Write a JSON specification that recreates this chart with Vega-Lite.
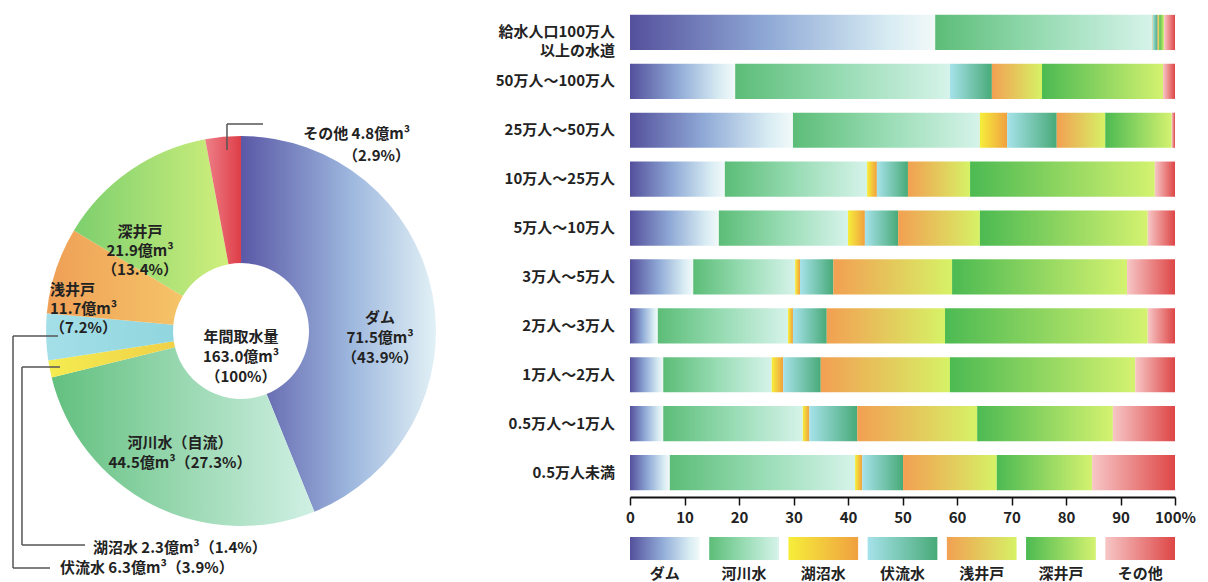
{
  "$schema": "https://vega.github.io/schema/vega-lite/v6.json",
  "padding": {"left": 5, "top": 8, "right": 5, "bottom": 0},
  "background": "white",
  "config": {"font": "Noto Sans CJK JP", "view": {"stroke": null}},
  "datasets": {
    "donut": [
      {"source": "ダム", "order": 1, "value": 71.5, "label": "ダム\n71.5億m³\n（43.9%）"},
      {"source": "河川水", "order": 2, "value": 44.5, "label": "河川水（自流）\n44.5億m³（27.3%）"},
      {"source": "湖沼水", "order": 3, "value": 2.3, "label": "湖沼水  2.3億m³（1.4%）"},
      {"source": "伏流水", "order": 4, "value": 6.3, "label": "伏流水  6.3億m³（3.9%）"},
      {"source": "浅井戸", "order": 5, "value": 11.7, "label": "浅井戸\n11.7億m³\n（7.2%）"},
      {"source": "深井戸", "order": 6, "value": 21.9, "label": "深井戸\n21.9億m³\n（13.4%）"},
      {"source": "その他", "order": 7, "value": 4.8, "label": "その他 4.8億m³\n（2.9%）"}
    ],
    "legend": [
      {"source": "ダム"}, {"source": "河川水"}, {"source": "湖沼水"}, {"source": "伏流水"},
      {"source": "浅井戸"}, {"source": "深井戸"}, {"source": "その他"}
    ],
    "bars": [
      {"size": "給水人口100万人|以上の水道", "source": "ダム", "order": 1, "pct": 56.0},
      {"size": "給水人口100万人|以上の水道", "source": "河川水", "order": 2, "pct": 39.8},
      {"size": "給水人口100万人|以上の水道", "source": "湖沼水", "order": 3, "pct": 0.1},
      {"size": "給水人口100万人|以上の水道", "source": "伏流水", "order": 4, "pct": 0.9},
      {"size": "給水人口100万人|以上の水道", "source": "浅井戸", "order": 5, "pct": 0.3},
      {"size": "給水人口100万人|以上の水道", "source": "深井戸", "order": 6, "pct": 0.9},
      {"size": "給水人口100万人|以上の水道", "source": "その他", "order": 7, "pct": 2.0},
      {"size": "50万人～100万人", "source": "ダム", "order": 1, "pct": 19.3},
      {"size": "50万人～100万人", "source": "河川水", "order": 2, "pct": 39.4},
      {"size": "50万人～100万人", "source": "湖沼水", "order": 3, "pct": 0.0},
      {"size": "50万人～100万人", "source": "伏流水", "order": 4, "pct": 7.7},
      {"size": "50万人～100万人", "source": "浅井戸", "order": 5, "pct": 9.2},
      {"size": "50万人～100万人", "source": "深井戸", "order": 6, "pct": 22.2},
      {"size": "50万人～100万人", "source": "その他", "order": 7, "pct": 2.2},
      {"size": "25万人～50万人", "source": "ダム", "order": 1, "pct": 29.9},
      {"size": "25万人～50万人", "source": "河川水", "order": 2, "pct": 34.3},
      {"size": "25万人～50万人", "source": "湖沼水", "order": 3, "pct": 5.0},
      {"size": "25万人～50万人", "source": "伏流水", "order": 4, "pct": 9.1},
      {"size": "25万人～50万人", "source": "浅井戸", "order": 5, "pct": 8.9},
      {"size": "25万人～50万人", "source": "深井戸", "order": 6, "pct": 12.2},
      {"size": "25万人～50万人", "source": "その他", "order": 7, "pct": 0.6},
      {"size": "10万人～25万人", "source": "ダム", "order": 1, "pct": 17.4},
      {"size": "10万人～25万人", "source": "河川水", "order": 2, "pct": 26.1},
      {"size": "10万人～25万人", "source": "湖沼水", "order": 3, "pct": 1.8},
      {"size": "10万人～25万人", "source": "伏流水", "order": 4, "pct": 5.7},
      {"size": "10万人～25万人", "source": "浅井戸", "order": 5, "pct": 11.4},
      {"size": "10万人～25万人", "source": "深井戸", "order": 6, "pct": 33.9},
      {"size": "10万人～25万人", "source": "その他", "order": 7, "pct": 3.7},
      {"size": "5万人～10万人", "source": "ダム", "order": 1, "pct": 16.3},
      {"size": "5万人～10万人", "source": "河川水", "order": 2, "pct": 23.7},
      {"size": "5万人～10万人", "source": "湖沼水", "order": 3, "pct": 3.1},
      {"size": "5万人～10万人", "source": "伏流水", "order": 4, "pct": 6.1},
      {"size": "5万人～10万人", "source": "浅井戸", "order": 5, "pct": 15.0},
      {"size": "5万人～10万人", "source": "深井戸", "order": 6, "pct": 30.8},
      {"size": "5万人～10万人", "source": "その他", "order": 7, "pct": 5.0},
      {"size": "3万人～5万人", "source": "ダム", "order": 1, "pct": 11.6},
      {"size": "3万人～5万人", "source": "河川水", "order": 2, "pct": 18.7},
      {"size": "3万人～5万人", "source": "湖沼水", "order": 3, "pct": 0.9},
      {"size": "3万人～5万人", "source": "伏流水", "order": 4, "pct": 6.1},
      {"size": "3万人～5万人", "source": "浅井戸", "order": 5, "pct": 21.8},
      {"size": "3万人～5万人", "source": "深井戸", "order": 6, "pct": 32.1},
      {"size": "3万人～5万人", "source": "その他", "order": 7, "pct": 8.8},
      {"size": "2万人～3万人", "source": "ダム", "order": 1, "pct": 5.1},
      {"size": "2万人～3万人", "source": "河川水", "order": 2, "pct": 23.9},
      {"size": "2万人～3万人", "source": "湖沼水", "order": 3, "pct": 0.9},
      {"size": "2万人～3万人", "source": "伏流水", "order": 4, "pct": 6.2},
      {"size": "2万人～3万人", "source": "浅井戸", "order": 5, "pct": 21.7},
      {"size": "2万人～3万人", "source": "深井戸", "order": 6, "pct": 37.2},
      {"size": "2万人～3万人", "source": "その他", "order": 7, "pct": 5.0},
      {"size": "1万人～2万人", "source": "ダム", "order": 1, "pct": 6.1},
      {"size": "1万人～2万人", "source": "河川水", "order": 2, "pct": 19.9},
      {"size": "1万人～2万人", "source": "湖沼水", "order": 3, "pct": 2.1},
      {"size": "1万人～2万人", "source": "伏流水", "order": 4, "pct": 6.9},
      {"size": "1万人～2万人", "source": "浅井戸", "order": 5, "pct": 23.7},
      {"size": "1万人～2万人", "source": "深井戸", "order": 6, "pct": 34.0},
      {"size": "1万人～2万人", "source": "その他", "order": 7, "pct": 7.3},
      {"size": "0.5万人～1万人", "source": "ダム", "order": 1, "pct": 6.1},
      {"size": "0.5万人～1万人", "source": "河川水", "order": 2, "pct": 25.6},
      {"size": "0.5万人～1万人", "source": "湖沼水", "order": 3, "pct": 1.2},
      {"size": "0.5万人～1万人", "source": "伏流水", "order": 4, "pct": 8.8},
      {"size": "0.5万人～1万人", "source": "浅井戸", "order": 5, "pct": 22.0},
      {"size": "0.5万人～1万人", "source": "深井戸", "order": 6, "pct": 24.9},
      {"size": "0.5万人～1万人", "source": "その他", "order": 7, "pct": 11.4},
      {"size": "0.5万人未満", "source": "ダム", "order": 1, "pct": 7.3},
      {"size": "0.5万人未満", "source": "河川水", "order": 2, "pct": 34.0},
      {"size": "0.5万人未満", "source": "湖沼水", "order": 3, "pct": 1.3},
      {"size": "0.5万人未満", "source": "伏流水", "order": 4, "pct": 7.5},
      {"size": "0.5万人未満", "source": "浅井戸", "order": 5, "pct": 17.2},
      {"size": "0.5万人未満", "source": "深井戸", "order": 6, "pct": 17.5},
      {"size": "0.5万人未満", "source": "その他", "order": 7, "pct": 15.2}
    ]
  },
  "spacing": 10,
  "hconcat": [
    {
      "width": 440,
      "height": 560,
      "data": {"name": "donut"},
      "transform": [{"stack": "value", "groupby": [], "sort": [{"field": "order", "order": "ascending"}], "as": ["t0", "t1"]}],
      "encoding": {
        "x": {"datum": 0.5364, "type": "quantitative", "scale": {"domain": [0, 1], "nice": false, "zero": false}, "axis": null},
        "y": {"datum": 0.4232, "type": "quantitative", "scale": {"domain": [0, 1], "nice": false, "zero": false}, "axis": null}
      },
      "layer": [
        {"transform": [{"filter": "datum.source === 'ダム'"}],
         "mark": {"type": "arc", "outerRadius": 195, "innerRadius": 68, "color": {"gradient": "linear", "x1": 0, "y1": 0, "x2": 1, "y2": 0, "stops": [{"offset": 0, "color": "#5a58a6"}, {"offset": 0.55, "color": "#9bb5dd"}, {"offset": 1, "color": "#e2f1f6"}]}},
         "encoding": {"theta": {"field": "t0", "type": "quantitative", "scale": {"domain": [0, 163]}}, "theta2": {"field": "t1"}}},
        {"transform": [{"filter": "datum.source === '河川水'"}],
         "mark": {"type": "arc", "outerRadius": 195, "innerRadius": 68, "color": {"gradient": "linear", "x1": 0, "y1": 0, "x2": 1, "y2": 0, "stops": [{"offset": 0, "color": "#62c07e"}, {"offset": 1, "color": "#d0f0e4"}]}},
         "encoding": {"theta": {"field": "t0", "type": "quantitative", "scale": {"domain": [0, 163]}}, "theta2": {"field": "t1"}}},
        {"transform": [{"filter": "datum.source === '湖沼水'"}],
         "mark": {"type": "arc", "outerRadius": 195, "innerRadius": 68, "color": {"gradient": "linear", "x1": 0, "y1": 0, "x2": 1, "y2": 0, "stops": [{"offset": 0, "color": "#f4ec50"}, {"offset": 1, "color": "#f0d048"}]}},
         "encoding": {"theta": {"field": "t0", "type": "quantitative", "scale": {"domain": [0, 163]}}, "theta2": {"field": "t1"}}},
        {"transform": [{"filter": "datum.source === '伏流水'"}],
         "mark": {"type": "arc", "outerRadius": 195, "innerRadius": 68, "color": {"gradient": "linear", "x1": 0, "y1": 0, "x2": 1, "y2": 0, "stops": [{"offset": 0, "color": "#a4dfe8"}, {"offset": 1, "color": "#90d6de"}]}},
         "encoding": {"theta": {"field": "t0", "type": "quantitative", "scale": {"domain": [0, 163]}}, "theta2": {"field": "t1"}}},
        {"transform": [{"filter": "datum.source === '浅井戸'"}],
         "mark": {"type": "arc", "outerRadius": 195, "innerRadius": 68, "color": {"gradient": "linear", "x1": 0, "y1": 0, "x2": 1, "y2": 0, "stops": [{"offset": 0, "color": "#ef9f56"}, {"offset": 1, "color": "#f5c468"}]}},
         "encoding": {"theta": {"field": "t0", "type": "quantitative", "scale": {"domain": [0, 163]}}, "theta2": {"field": "t1"}}},
        {"transform": [{"filter": "datum.source === '深井戸'"}],
         "mark": {"type": "arc", "outerRadius": 195, "innerRadius": 68, "color": {"gradient": "linear", "x1": 0, "y1": 0, "x2": 1, "y2": 0, "stops": [{"offset": 0, "color": "#7ccf6e"}, {"offset": 1, "color": "#d0ef7c"}]}},
         "encoding": {"theta": {"field": "t0", "type": "quantitative", "scale": {"domain": [0, 163]}}, "theta2": {"field": "t1"}}},
        {"transform": [{"filter": "datum.source === 'その他'"}],
         "mark": {"type": "arc", "outerRadius": 195, "innerRadius": 68, "color": {"gradient": "linear", "x1": 0, "y1": 0, "x2": 1, "y2": 0, "stops": [{"offset": 0, "color": "#ee8088"}, {"offset": 1, "color": "#de3e48"}]}},
         "encoding": {"theta": {"field": "t0", "type": "quantitative", "scale": {"domain": [0, 163]}}, "theta2": {"field": "t1"}}},

        {"data": {"values": [{}]}, "mark": {"type": "rule", "color": "#555", "strokeWidth": 1.5},
         "encoding": {"x": {"datum": 0.1205, "type": "quantitative"}, "x2": {"datum": 0.0182}, "y": {"datum": 0.4143, "type": "quantitative"}, "y2": {"datum": 0.4143}}},
        {"data": {"values": [{}]}, "mark": {"type": "rule", "color": "#555", "strokeWidth": 1.5},
         "encoding": {"x": {"datum": 0.0182, "type": "quantitative"}, "x2": {"datum": 0.0182}, "y": {"datum": 0.4143, "type": "quantitative"}, "y2": {"datum": 0.0}}},
        {"data": {"values": [{}]}, "mark": {"type": "rule", "color": "#555", "strokeWidth": 1.5},
         "encoding": {"x": {"datum": 0.0182, "type": "quantitative"}, "x2": {"datum": 0.1023}, "y": {"datum": 0.0, "type": "quantitative"}, "y2": {"datum": 0.0}}},
        {"data": {"values": [{}]}, "mark": {"type": "rule", "color": "#555", "strokeWidth": 1.5},
         "encoding": {"x": {"datum": 0.125, "type": "quantitative"}, "x2": {"datum": 0.0386}, "y": {"datum": 0.3589, "type": "quantitative"}, "y2": {"datum": 0.3589}}},
        {"data": {"values": [{}]}, "mark": {"type": "rule", "color": "#555", "strokeWidth": 1.5},
         "encoding": {"x": {"datum": 0.0386, "type": "quantitative"}, "x2": {"datum": 0.0386}, "y": {"datum": 0.3589, "type": "quantitative"}, "y2": {"datum": 0.0411}}},
        {"data": {"values": [{}]}, "mark": {"type": "rule", "color": "#555", "strokeWidth": 1.5},
         "encoding": {"x": {"datum": 0.0386, "type": "quantitative"}, "x2": {"datum": 0.1818}, "y": {"datum": 0.0411, "type": "quantitative"}, "y2": {"datum": 0.0411}}},
        {"data": {"values": [{}]}, "mark": {"type": "rule", "color": "#555", "strokeWidth": 1.5},
         "encoding": {"x": {"datum": 0.5045, "type": "quantitative"}, "x2": {"datum": 0.5045}, "y": {"datum": 0.7464, "type": "quantitative"}, "y2": {"datum": 0.7929}}},
        {"data": {"values": [{}]}, "mark": {"type": "rule", "color": "#555", "strokeWidth": 1.5},
         "encoding": {"x": {"datum": 0.5045, "type": "quantitative"}, "x2": {"datum": 0.5864}, "y": {"datum": 0.7929, "type": "quantitative"}, "y2": {"datum": 0.7929}}},

        {"transform": [{"filter": "datum.source === 'ダム'"}],
         "mark": {"type": "text", "radius": 139.6, "thetaOffset": 1.478, "align": "center", "baseline": "middle", "lineBreak": "\n", "lineHeight": 20, "fontSize": 15, "fontWeight": "bold", "color": "#222"},
         "encoding": {"theta": {"field": "t0", "type": "quantitative", "scale": {"domain": [0, 163]}}, "text": {"field": "label"}}},
        {"transform": [{"filter": "datum.source === '河川水'"}],
         "mark": {"type": "text", "radius": 127.5, "thetaOffset": 0.885, "align": "center", "baseline": "middle", "lineBreak": "\n", "lineHeight": 20, "fontSize": 15, "fontWeight": "bold", "color": "#222"},
         "encoding": {"theta": {"field": "t0", "type": "quantitative", "scale": {"domain": [0, 163]}}, "text": {"field": "label"}}},
        {"transform": [{"filter": "datum.source === '湖沼水'"}],
         "mark": {"type": "text", "radius": 262.7, "thetaOffset": -0.731, "align": "left", "baseline": "middle", "lineBreak": "\n", "lineHeight": 20, "fontSize": 15, "fontWeight": "bold", "color": "#222"},
         "encoding": {"theta": {"field": "t0", "type": "quantitative", "scale": {"domain": [0, 163]}}, "text": {"field": "label"}}},
        {"transform": [{"filter": "datum.source === '伏流水'"}],
         "mark": {"type": "text", "radius": 298.2, "thetaOffset": -0.766, "align": "left", "baseline": "middle", "lineBreak": "\n", "lineHeight": 20, "fontSize": 15, "fontWeight": "bold", "color": "#222"},
         "encoding": {"theta": {"field": "t0", "type": "quantitative", "scale": {"domain": [0, 163]}}, "text": {"field": "label"}}},
        {"transform": [{"filter": "datum.source === '浅井戸'"}],
         "mark": {"type": "text", "radius": 195.4, "thetaOffset": 0.12, "align": "left", "baseline": "middle", "lineBreak": "\n", "lineHeight": 19, "fontSize": 15, "fontWeight": "bold", "color": "#222"},
         "encoding": {"theta": {"field": "t0", "type": "quantitative", "scale": {"domain": [0, 163]}}, "text": {"field": "label"}}},
        {"transform": [{"filter": "datum.source === '深井戸'"}],
         "mark": {"type": "text", "radius": 141.4, "thetaOffset": 0.234, "align": "center", "baseline": "middle", "lineBreak": "\n", "lineHeight": 19, "fontSize": 15, "fontWeight": "bold", "color": "#222"},
         "encoding": {"theta": {"field": "t0", "type": "quantitative", "scale": {"domain": [0, 163]}}, "text": {"field": "label"}}},
        {"transform": [{"filter": "datum.source === 'その他'"}],
         "mark": {"type": "text", "radius": 259.6, "thetaOffset": 0.894, "align": "right", "baseline": "middle", "lineBreak": "\n", "lineHeight": 22, "fontSize": 15, "fontWeight": "bold", "color": "#222"},
         "encoding": {"theta": {"field": "t0", "type": "quantitative", "scale": {"domain": [0, 163]}}, "text": {"field": "label"}}},
        {"data": {"values": [{"t": "年間取水量\n163.0億m³\n（100%）"}]},
         "mark": {"type": "text", "align": "center", "baseline": "middle", "dy": 6, "lineBreak": "\n", "lineHeight": 20, "fontSize": 15, "fontWeight": "bold", "color": "#222"},
         "encoding": {"text": {"field": "t"}}}
      ]
    },
    {
      "spacing": 12,
      "vconcat": [
        {
          "width": 545,
          "height": 489,
          "data": {"name": "bars"},
          "transform": [{"stack": "pct", "groupby": ["size"], "sort": [{"field": "order", "order": "ascending"}], "as": ["p0", "p1"]}],
          "encoding": {
            "y": {"field": "size", "type": "nominal",
                  "sort": ["給水人口100万人|以上の水道", "50万人～100万人", "25万人～50万人", "10万人～25万人", "5万人～10万人", "3万人～5万人", "2万人～3万人", "1万人～2万人", "0.5万人～1万人", "0.5万人未満"],
                  "scale": {"paddingInner": 0.28, "paddingOuter": 0.14},
                  "axis": {"title": null, "domain": false, "ticks": false, "labels": false, "minExtent": 175, "maxExtent": 175}},
            "x": {"field": "p0", "type": "quantitative", "scale": {"domain": [0, 100], "nice": false},
                  "axis": {"title": null, "grid": false, "values": [0, 10, 20, 30, 40, 50, 60, 70, 80, 90, 100], "labelExpr": "datum.value == 100 ? '100%' : datum.label", "domainColor": "#111", "domainWidth": 2, "tickColor": "#111", "tickSize": 8, "tickWidth": 1.5, "labelFontSize": 15, "labelFontWeight": "bold", "labelColor": "#222", "labelPadding": 5, "labelFlush": false}}
          },
          "layer": [
            {"transform": [{"filter": "datum.source === 'ダム'"}], "mark": {"type": "bar", "color": {"gradient": "linear", "x1": 0, "y1": 0, "x2": 1, "y2": 0, "stops": [{"offset": 0, "color": "#54509c"}, {"offset": 0.45, "color": "#8fa9d6"}, {"offset": 0.85, "color": "#d8ecf3"}, {"offset": 1, "color": "#f2f9f9"}]}}, "encoding": {"x2": {"field": "p1"}}},
            {"transform": [{"filter": "datum.source === '河川水'"}], "mark": {"type": "bar", "color": {"gradient": "linear", "x1": 0, "y1": 0, "x2": 1, "y2": 0, "stops": [{"offset": 0, "color": "#5cbd77"}, {"offset": 0.5, "color": "#98dcb4"}, {"offset": 1, "color": "#d6f3ea"}]}}, "encoding": {"x2": {"field": "p1"}}},
            {"transform": [{"filter": "datum.source === '湖沼水'"}], "mark": {"type": "bar", "color": {"gradient": "linear", "x1": 0, "y1": 0, "x2": 1, "y2": 0, "stops": [{"offset": 0, "color": "#f6ee3a"}, {"offset": 1, "color": "#f0a040"}]}}, "encoding": {"x2": {"field": "p1"}}},
            {"transform": [{"filter": "datum.source === '伏流水'"}], "mark": {"type": "bar", "color": {"gradient": "linear", "x1": 0, "y1": 0, "x2": 1, "y2": 0, "stops": [{"offset": 0, "color": "#a6e2ea"}, {"offset": 1, "color": "#48aa78"}]}}, "encoding": {"x2": {"field": "p1"}}},
            {"transform": [{"filter": "datum.source === '浅井戸'"}], "mark": {"type": "bar", "color": {"gradient": "linear", "x1": 0, "y1": 0, "x2": 1, "y2": 0, "stops": [{"offset": 0, "color": "#f2a052"}, {"offset": 1, "color": "#d6f266"}]}}, "encoding": {"x2": {"field": "p1"}}},
            {"transform": [{"filter": "datum.source === '深井戸'"}], "mark": {"type": "bar", "color": {"gradient": "linear", "x1": 0, "y1": 0, "x2": 1, "y2": 0, "stops": [{"offset": 0, "color": "#4cba52"}, {"offset": 1, "color": "#d4f270"}]}}, "encoding": {"x2": {"field": "p1"}}},
            {"transform": [{"filter": "datum.source === 'その他'"}], "mark": {"type": "bar", "color": {"gradient": "linear", "x1": 0, "y1": 0, "x2": 1, "y2": 0, "stops": [{"offset": 0, "color": "#f7c6c6"}, {"offset": 1, "color": "#de4646"}]}}, "encoding": {"x2": {"field": "p1"}}},
            {"transform": [{"filter": "datum.order === 1"}],
             "mark": {"type": "text", "align": "right", "baseline": "middle", "dx": -15, "lineBreak": "|", "lineHeight": 19, "fontSize": 15, "fontWeight": "bold", "color": "#222"},
             "encoding": {"text": {"field": "size"}}}
          ]
        },
        {
          "width": 545,
          "height": 23,
          "data": {"name": "legend"},
          "encoding": {
            "x": {"field": "source", "type": "nominal",
                  "scale": {"domain": ["ダム", "河川水", "湖沼水", "伏流水", "浅井戸", "深井戸", "その他"], "paddingInner": 0.12, "paddingOuter": 0},
                  "axis": {"title": null, "domain": false, "ticks": false, "labelAngle": 0, "labelFontSize": 15, "labelFontWeight": "bold", "labelColor": "#222", "labelPadding": 6}}
          },
          "layer": [
            {"transform": [{"filter": "datum.source === 'ダム'"}], "mark": {"type": "bar", "color": {"gradient": "linear", "x1": 0, "y1": 0, "x2": 1, "y2": 0, "stops": [{"offset": 0, "color": "#54509c"}, {"offset": 0.45, "color": "#8fa9d6"}, {"offset": 0.85, "color": "#d8ecf3"}, {"offset": 1, "color": "#f2f9f9"}]}}},
            {"transform": [{"filter": "datum.source === '河川水'"}], "mark": {"type": "bar", "color": {"gradient": "linear", "x1": 0, "y1": 0, "x2": 1, "y2": 0, "stops": [{"offset": 0, "color": "#5cbd77"}, {"offset": 0.5, "color": "#98dcb4"}, {"offset": 1, "color": "#d6f3ea"}]}}},
            {"transform": [{"filter": "datum.source === '湖沼水'"}], "mark": {"type": "bar", "color": {"gradient": "linear", "x1": 0, "y1": 0, "x2": 1, "y2": 0, "stops": [{"offset": 0, "color": "#f6ee3a"}, {"offset": 1, "color": "#f0a040"}]}}},
            {"transform": [{"filter": "datum.source === '伏流水'"}], "mark": {"type": "bar", "color": {"gradient": "linear", "x1": 0, "y1": 0, "x2": 1, "y2": 0, "stops": [{"offset": 0, "color": "#a6e2ea"}, {"offset": 1, "color": "#48aa78"}]}}},
            {"transform": [{"filter": "datum.source === '浅井戸'"}], "mark": {"type": "bar", "color": {"gradient": "linear", "x1": 0, "y1": 0, "x2": 1, "y2": 0, "stops": [{"offset": 0, "color": "#f2a052"}, {"offset": 1, "color": "#d6f266"}]}}},
            {"transform": [{"filter": "datum.source === '深井戸'"}], "mark": {"type": "bar", "color": {"gradient": "linear", "x1": 0, "y1": 0, "x2": 1, "y2": 0, "stops": [{"offset": 0, "color": "#4cba52"}, {"offset": 1, "color": "#d4f270"}]}}},
            {"transform": [{"filter": "datum.source === 'その他'"}], "mark": {"type": "bar", "color": {"gradient": "linear", "x1": 0, "y1": 0, "x2": 1, "y2": 0, "stops": [{"offset": 0, "color": "#f7c6c6"}, {"offset": 1, "color": "#de4646"}]}}}
          ]
        }
      ]
    }
  ]
}
